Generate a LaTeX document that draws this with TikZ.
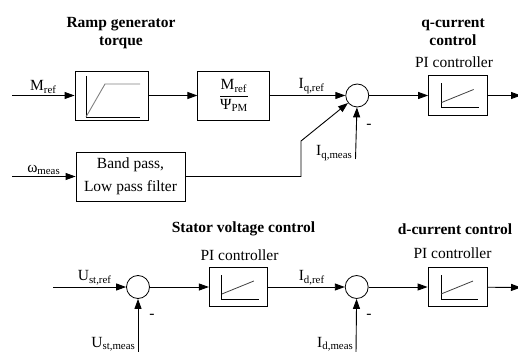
\documentclass[tikz,border=0pt]{standalone}
\usepackage{amsmath}
\usepackage{fontspec}
\setmainfont{Liberation Serif}
\usetikzlibrary{positioning,arrows.meta}
\newcommand{\diagfont}{\fontsize{15.5}{18.5}\selectfont}
\tikzset{
  box/.style={draw, line width=0.9pt, inner sep=0pt, align=center},
  rampbox/.style={box, minimum width=73pt, minimum height=49pt,
    path picture={
      \draw[line width=0.9pt] ([xshift=-25.5pt,yshift=19.5pt]path picture bounding box.center)
        -- ([xshift=-25.5pt,yshift=-21.5pt]path picture bounding box.center)
        -- ([xshift=28.5pt,yshift=-21.5pt]path picture bounding box.center);
      \draw[line width=0.9pt, gray] ([xshift=-25.5pt,yshift=-21.5pt]path picture bounding box.center)
        -- ([xshift=-6.5pt,yshift=11.5pt]path picture bounding box.center)
        -- ([xshift=28.5pt,yshift=11.5pt]path picture bounding box.center);
    }},
  piblock/.style={box, minimum width=59pt, minimum height=40pt,
    path picture={
      \draw[line width=0.9pt] ([xshift=-16.5pt,yshift=12pt]path picture bounding box.center)
        -- ([xshift=-16.5pt,yshift=-12pt]path picture bounding box.center)
        -- ([xshift=20.5pt,yshift=-12pt]path picture bounding box.center);
      \draw[line width=0.8pt, black!75] ([xshift=-16.5pt,yshift=-7pt]path picture bounding box.center)
        -- ([xshift=15.5pt,yshift=6pt]path picture bounding box.center);
    }},
  sumnode/.style={draw, circle, line width=0.8pt, minimum size=23pt, inner sep=0pt},
  sig/.style={-{Triangle[length=10pt,width=7pt]}, line width=0.9pt},
  head/.style={font=\diagfont\bfseries, align=center},
  lbl/.style={inner sep=1.5pt},
}

\begin{document}
\begin{tikzpicture}[x=1pt, y=-1pt, font=\diagfont]
  \useasboundingbox (0,0) rectangle (518,352);

  % upper loop: torque -> q-current
  \node[rampbox]                        (ramp)  at (111.5,95.5) {};
  \node[box, right=49pt of ramp, minimum width=72pt, minimum height=49pt]
       (frac)  {$\dfrac{\text{M\textsubscript{ref}}}{\text{Ψ\textsubscript{PM}}}$};
  \node[sumnode, right=75pt of frac]    (sumq)  {};
  \node[piblock, right=59pt of sumq]    (piq)   {};
  \node[box, minimum width=109pt, minimum height=49pt]
       (filter) at (130.5,176.5) {Band pass,\\[4.5pt]Low pass filter};

  \node[head] (ramphead) at (121,33) {Ramp generator\\torque};
  \node[head] (qhead)    at (453,32) {q-current\\control};
  \node       (qpi)      at (454,62) {PI controller};

  \coordinate (mrefin)  at (12,95.5);
  \coordinate (omegain) at (12,176.5);
  \coordinate (bend)    at (301,141);
  \coordinate (iqmeas)  at (355.5,159);
  \coordinate (qout)    at (521,95.5);

  \draw[sig] (mrefin) -- node[above, lbl] (mref) {M\textsubscript{ref}} (ramp);
  \draw[sig] (ramp) -- (frac);
  \draw[sig] (frac) -- node[above, lbl, pos=0.55] (iqref) {I\textsubscript{q,ref}} (sumq);
  \draw[sig] (sumq) -- (piq);
  \draw[sig] (piq) -- (qout);
  \draw[sig] (omegain) -- node[above, lbl] (omeas) {ω\textsubscript{meas}} (filter);
  \draw[sig] (filter.east) -| (bend) -- (sumq);
  \draw[sig] (iqmeas) -- (sumq);
  \node[anchor=base east, lbl] (iqmeaslbl) at (354,156) {I\textsubscript{q,meas}};
  \node (qminus) at (369,126) {-};

  % lower loop: stator voltage -> d-current
  \node[sumnode]                        (sumst) at (138,287) {};
  \node[piblock, right=59pt of sumst, minimum width=58pt, minimum height=39pt] (pist) {};
  \node[sumnode, right=77pt of pist]    (sumd)  {};
  \node[piblock, right=59pt of sumd, minimum height=39pt] (pid) {};

  \node[head] (sthead) at (243.5,229) {Stator voltage control};
  \node       (stpi)   at (239.5,255) {PI controller};
  \node[head] (dhead)  at (455,229)   {d-current control};
  \node       (dpi)    at (452.5,253) {PI controller};

  \coordinate (ustin)   at (53,287);
  \coordinate (ustmeas) at (138,353);
  \coordinate (idmeas)  at (356,353);
  \coordinate (dout)    at (521,287.5);

  \draw[sig] (ustin) -- node[above, lbl, pos=0.57] (ustref) {U\textsubscript{st,ref}} (sumst);
  \draw[sig] (sumst) -- (pist);
  \draw[sig] (pist) -- node[above, lbl, pos=0.57] (idref) {I\textsubscript{d,ref}} (sumd);
  \draw[sig] (sumd) -- (pid);
  \draw[sig] (pid) -- (dout);
  \draw[sig] (ustmeas) -- (sumst);
  \draw[sig] (idmeas) -- (sumd);
  \node[anchor=base east, lbl] (ustmeaslbl) at (137,347) {U\textsubscript{st,meas}};
  \node[anchor=base east, lbl] (idmeaslbl)  at (355,347) {I\textsubscript{d,meas}};
  \node (stminus) at (152,316) {-};
  \node (dminus)  at (369,316) {-};
\end{tikzpicture}
\end{document}
